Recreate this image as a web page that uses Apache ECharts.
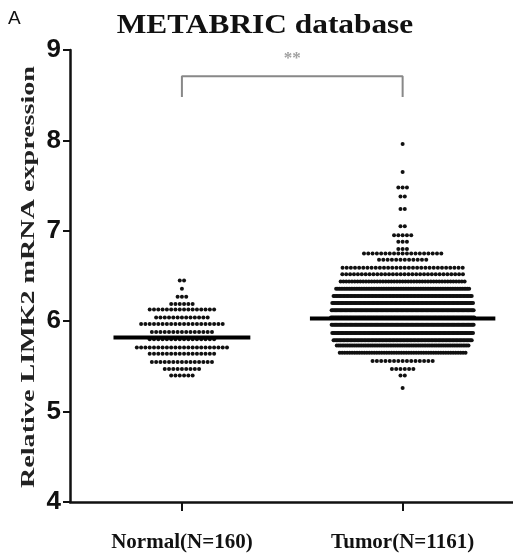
<!DOCTYPE html>
<html>
<head>
<meta charset="utf-8">
<script src="https://cdn.jsdelivr.net/npm/echarts@6/dist/echarts.min.js"></script>
<style>
  html, body { margin: 0; padding: 0; background: #fff; }
  #chart { width: 513px; height: 560px; }
</style>
</head>
<body>
<div id="chart"></div>
<script>
// Groups on the x axis
const groupNames = ['Normal(N=160)', 'Tumor(N=1161)'];
const groupPos = [1, 2];

// Binned expression levels and the number of samples in each bin
const normalLevels = [6.45, 6.36, 6.27, 6.19, 6.13, 6.04, 5.97, 5.88, 5.80, 5.71, 5.64, 5.55, 5.47, 5.40];
const normalCounts = [2, 1, 3, 6, 16, 13, 20, 15, 16, 22, 16, 15, 9, 6];

const tumorLevels = [7.96, 7.65, 7.48, 7.38, 7.24, 7.05, 6.95, 6.88, 6.80, 6.75, 6.68,
                     6.59, 6.52, 6.44, 6.36, 6.28, 6.20, 6.12, 6.04, 5.96, 5.87, 5.79, 5.73, 5.65,
                     5.56, 5.47, 5.40, 5.26];
const tumorCounts = [1, 1, 3, 2, 2, 2, 5, 3, 3, 19, 12,
                     30, 32, 45, 80, 100, 110, 115, 120, 115, 110, 100, 75, 52,
                     15, 6, 2, 1];

// Group means (horizontal bars)
const groupMeans = [5.82, 6.03];

// Significance bracket between the two groups
const bracketLevels = [8.48, 8.71];
const sigLabel = '**';
const sigLevel = 8.91;

// ---- layout helpers ----
const UNIT_PX = 221;          // pixels per x-axis unit
const DOT_STEP = 4.3;         // dot spacing in px
const SOFT_W = 120;           // rows wider than this get compressed
const meanHalf = [0.31, 0.42];

function spreadGroup(center, levels, counts) {
  const pts = [];
  levels.forEach((lv, k) => {
    const n = counts[k];
    const natural = (n - 1) * DOT_STEP;
    let w = natural;
    if (natural > SOFT_W) w = SOFT_W + (natural - SOFT_W) * 0.06;
    const step = n > 1 ? w / (n - 1) : 0;
    for (let i = 0; i < n; i++) {
      const off = (i - (n - 1) / 2) * step / UNIT_PX;
      pts.push([center + off, lv]);
    }
  });
  return pts;
}

const normalPts = spreadGroup(groupPos[0], normalLevels, normalCounts);
const tumorPts = spreadGroup(groupPos[1], tumorLevels, tumorCounts);

const dotStyle = { color: '#111', opacity: 1 };

const chart = echarts.init(document.getElementById('chart'), null, { renderer: 'canvas' });

chart.setOption({
  animation: false,
  backgroundColor: '#fff',
  grid: { left: 70, right: 0, top: 50, bottom: 58, containLabel: false },
  graphic: [
    {
      type: 'text', x: 8, y: 9,
      style: { text: 'A', fontFamily: 'Liberation Sans', fontSize: 19, fill: '#111' }
    },
    {
      type: 'text', x: 265, y: 26, scaleX: 1.12,
      style: {
        text: 'METABRIC database', fontFamily: 'Liberation Serif', fontWeight: 'bold',
        fontSize: 28, fill: '#111', align: 'center', verticalAlign: 'middle'
      }
    },
    {
      type: 'text', x: 29, y: 277, rotation: Math.PI / 2, scaleX: 1.48,
      style: {
        text: 'Relative LIMK2 mRNA expression', fontFamily: 'Liberation Serif', fontWeight: 'bold',
        fontSize: 19, fill: '#222', align: 'center', verticalAlign: 'middle'
      }
    }
  ],
  xAxis: {
    type: 'value', min: 0.493, max: 2.5,
    splitLine: { show: false },
    axisLine: { show: true, onZero: false, lineStyle: { color: '#111', width: 2.5 } },
    axisTick: { show: true, customValues: groupPos, length: 9, lineStyle: { color: '#111', width: 2 } },
    axisLabel: {
      customValues: groupPos, margin: 30,
      formatter: v => groupNames[Math.round(v) - 1],
      fontFamily: 'Liberation Serif', fontWeight: 'bold', fontSize: 21, color: '#111'
    }
  },
  yAxis: {
    type: 'value', min: 4, max: 9, interval: 1,
    splitLine: { show: false },
    axisLine: { show: true, lineStyle: { color: '#111', width: 2.5 } },
    axisTick: { show: true, length: 7, lineStyle: { color: '#111', width: 2 } },
    axisLabel: {
      margin: 9, fontFamily: 'Liberation Sans', fontWeight: 'bold', fontSize: 26, color: '#111'
    }
  },
  series: [
    {
      name: 'Normal', type: 'scatter', data: normalPts, symbolSize: 4,
      itemStyle: dotStyle, z: 2
    },
    {
      name: 'Tumor', type: 'scatter', data: tumorPts, symbolSize: 4,
      itemStyle: dotStyle, z: 2
    },
    {
      name: 'Normal mean', type: 'line', symbol: 'none', z: 3,
      data: [[groupPos[0] - meanHalf[0], groupMeans[0]], [groupPos[0] + meanHalf[0], groupMeans[0]]],
      lineStyle: { color: '#000', width: 4 }
    },
    {
      name: 'Tumor mean', type: 'line', symbol: 'none', z: 3,
      data: [[groupPos[1] - meanHalf[1], groupMeans[1]], [groupPos[1] + meanHalf[1], groupMeans[1]]],
      lineStyle: { color: '#000', width: 4 }
    },
    {
      name: 'bracket', type: 'line', symbol: 'none', z: 3,
      data: [[groupPos[0], bracketLevels[0]], [groupPos[0], bracketLevels[1]],
             [groupPos[1], bracketLevels[1]], [groupPos[1], bracketLevels[0]]],
      lineStyle: { color: '#888', width: 2 }
    },
    {
      name: 'significance', type: 'scatter', symbolSize: 0, z: 3,
      data: [[(groupPos[0] + groupPos[1]) / 2, sigLevel]],
      label: {
        show: true, position: 'inside', formatter: sigLabel,
        fontFamily: 'Liberation Serif', fontWeight: 'bold', fontSize: 17, color: '#888'
      }
    }
  ]
});
</script>
</body>
</html>
